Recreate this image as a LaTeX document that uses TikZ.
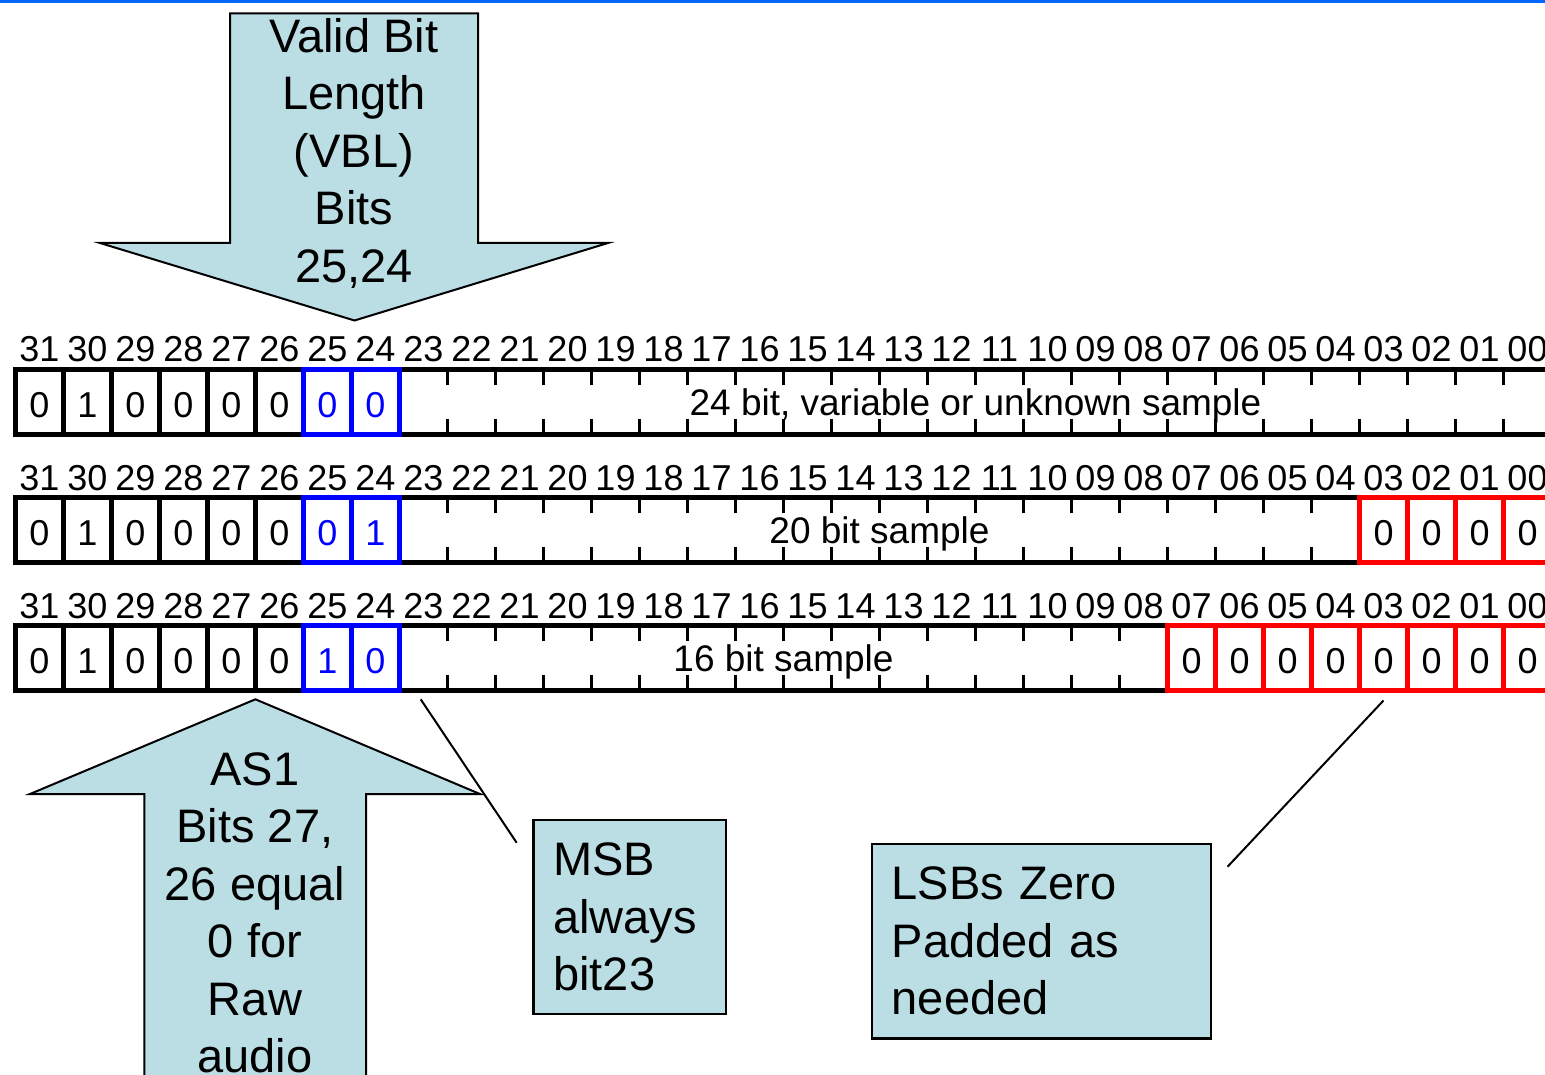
\documentclass[tikz,border=0pt]{standalone}
\usepackage{fontspec}
\setmainfont{Liberation Sans}
\usetikzlibrary{positioning,calc}
\definecolor{calloutblue}{RGB}{187,222,228}
\definecolor{slideline}{RGB}{0,102,255}

\begin{document}
\begin{tikzpicture}[x=1pt,y=-1pt,
   bitcell/.style={draw,line width=5pt,minimum width=48pt,minimum height=64.5pt,
      inner sep=0pt,text height=31.5pt,text depth=0pt,font=\fontsize{36}{36}\selectfont},
   vblcell/.style={bitcell,draw=blue,text=blue},
   padcell/.style={bitcell,draw=red},
   bitnum/.style={anchor=base,inner sep=0pt,font=\fontsize{36}{36}\selectfont},
   rowtext/.style={anchor=base,inner sep=0pt,font=\fontsize{37}{37}\selectfont},
   note/.style={draw,line width=2.5pt,fill=calloutblue,align=left,inner xsep=20pt,
      inner ysep=0pt,font=\fontsize{47}{57.5}\selectfont},
   bigarrow/.style={draw,line width=2pt,fill=calloutblue},
   arrowtext/.style={anchor=north,align=center,inner sep=0pt,font=\fontsize{47}{57.5}\selectfont},
   leader/.style={line width=2pt}]
   \useasboundingbox (0,0) rectangle (1545,1075);
   \clip (0,0) rectangle (1545,1075);
   \draw[slideline,line width=2.6pt] (0,1.3) -- (1545,1.3);

   % the three sample words
   \foreach \r/\va/\vb/\npad/\txt in {1/0/0/0/{24 bit, variable or unknown sample},
                                    2/0/1/4/{20 bit sample},
                                    3/1/0/8/{16 bit sample}} {
      \pgfmathsetmacro\yt{369.5+128*(\r-1)}
      \pgfmathsetmacro\yb{\yt+64.5}
      \pgfmathsetmacro\yc{\yt+32.25}
      \pgfmathtruncatemacro\lasttick{31-\npad}
      \draw[line width=5pt] (15.5,\yt) -- (1560,\yt) (15.5,\yb) -- (1560,\yb);
      \foreach \b in {0,...,31}
         \node[bitnum] (num\r-\b) at ({39.5+48*(31-\b)},\yt-7.5) {\ifnum\b<10 0\fi\b};
      \foreach \k in {9,...,\lasttick}
         \draw[line width=3pt] (15.5+48*\k,\yt) -- ++(0,15) (15.5+48*\k,\yb) -- ++(0,-15);
      \foreach \b/\v in {31/0,30/1,29/0,28/0,27/0,26/0}
         \node[bitcell] (c\r-\b) at ({39.5+48*(31-\b)},\yc) {\v};
      \node[vblcell] (c\r-25) at (327.5,\yc) {\va};
      \node[vblcell] (c\r-24) at (375.5,\yc) {\vb};
      \ifnum\npad>0
         \foreach \b in {1,...,\npad} {
            \pgfmathtruncatemacro\bb{\b-1}
            \node[padcell] (c\r-\bb) at ({39.5+48*(31-\bb)},\yc) {0};
         }
      \fi
      \node[rowtext] (txt\r) at ({(399.5+15.5+48*(32-\npad))/2},\yc+13.25) {\txt};
   }

   % callout arrows
   \draw[bigarrow] (230,13.5) -- (478,13.5) -- (478,243) -- (608,243) -- (354.5,320.5)
      -- (100,243) -- (230,243) -- cycle;
   \node[arrowtext] (vbl) at (354,18) {Valid Bit\\Length\\(VBL)\\Bits\\25,24};
   \draw[bigarrow] (255.4,699.3) -- (480,794) -- (366,794) -- (366,1090) -- (144.4,1090)
      -- (144.4,794) -- (30,794) -- cycle;
   \node[arrowtext] (as1) at (255,752) {AS1\\Bits 27,\\26 equal\\0 for\\Raw\\audio};

   % notes
   \node[note,text width=152.5pt,minimum height=194pt] (msb) at (629.5,917) {MSB\\always\\bit23};
   \node[note,text width=299pt,minimum height=194.3pt] (lsb) at (1041.25,941.15) {LSBs Zero\\Padded as\\needed};
   \coordinate (msbfoot) at (420.7,699.3);
   \draw[leader] (msbfoot) -- ([shift={(-15.3pt,-24pt)}]msb.north west);
   \draw[leader] ([yshift=-8pt]c3-3.south) -- ([shift={(15.5pt,-24pt)}]lsb.north east);
\end{tikzpicture}
\end{document}
